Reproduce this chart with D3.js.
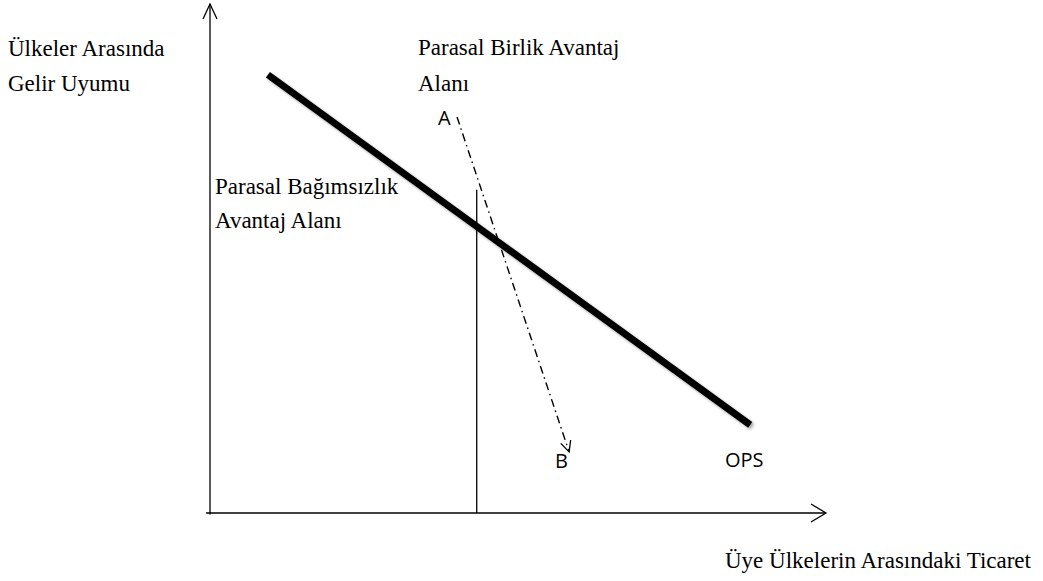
<!DOCTYPE html>
<html>
<head>
<meta charset="utf-8">
<script src="https://cdn.jsdelivr.net/npm/d3@7"></script>
<style>
  body { margin: 0; background: #fff; }
  .serif { font-family: "Liberation Serif", "Times New Roman", serif; font-size: 23px; fill: #000; }
  .sans { font-family: "Open Sans", "Liberation Sans", sans-serif; font-size: 20px; fill: #000; }
</style>
</head>
<body>
<div id="chart"></div>
<script>
// conceptual coordinates, 0..100 on both axes
var opsX = [9.4, 87.7];
var opsY = [86.1, 17.3];
var splitX = 43.3;
var splitTop = 63.5;
var moveX = [40.1, 58.3];   // A -> B
var moveY = [77.8, 12.0];

var yTitle = ["Ülkeler Arasında", "Gelir Uyumu"];
var xTitle = "Üye Ülkelerin Arasındaki Ticaret";
var unionLabel = ["Parasal Birlik Avantaj", "Alanı"];
var indepLabel = ["Parasal Bağımsızlık", "Avantaj Alanı"];

var svgW = 1043, svgH = 581;

var svg = d3.select("#chart").append("svg")
  .attr("width", svgW)
  .attr("height", svgH);

var defs = svg.append("defs");
var shadow = defs.append("filter").attr("id", "shadow")
  .attr("x", "-10%").attr("y", "-10%").attr("width", "130%").attr("height", "130%");
shadow.append("feGaussianBlur").attr("in", "SourceAlpha").attr("stdDeviation", 1.5).attr("result", "blur");
shadow.append("feOffset").attr("dx", 2).attr("dy", 2).attr("result", "off");
shadow.append("feComponentTransfer").append("feFuncA").attr("type", "linear").attr("slope", 0.35);
var merge = shadow.append("feMerge");
merge.append("feMergeNode");
merge.append("feMergeNode").attr("in", "SourceGraphic");

var x = d3.scaleLinear().domain([0, 100]).range([210, 826]);
var y = d3.scaleLinear().domain([0, 100]).range([513, 4]);

var line = d3.line().x(d => x(d[0])).y(d => y(d[1]));

// axes
var axes = svg.append("g").attr("stroke", "#000").attr("fill", "none").attr("stroke-width", 1.3);
axes.append("path").attr("d", line([[0, -0.3], [0, 100]]));
axes.append("path").attr("d", `M${x(0) - 4},${y(0)}H${x(100)}`);
// arrow heads
axes.append("path").attr("d", `M${x(0) - 7},${y(100) + 15}L${x(0)},${y(100)}L${x(0) + 7},${y(100) + 15}`);
axes.append("path").attr("d", `M${x(100) - 15},${y(0) - 9}L${x(100)},${y(0)}L${x(100) - 15},${y(0) + 9}`);

// vertical divider
svg.append("path")
  .attr("d", line([[splitX, 0], [splitX, splitTop]]))
  .attr("stroke", "#000")
  .attr("stroke-width", 1.3)
  .attr("fill", "none");

// OPS line
svg.append("path")
  .attr("d", line(d3.zip(opsX, opsY)))
  .attr("stroke", "#000")
  .attr("stroke-width", 7)
  .attr("fill", "none")
  .attr("filter", "url(#shadow)");

// A -> B dash-dot arrow
var ax = x(moveX[0]), ay = y(moveY[0]), bx = x(moveX[1]), by = y(moveY[1]);
svg.append("path")
  .attr("d", line(d3.zip(moveX, moveY)))
  .attr("stroke", "#000")
  .attr("stroke-width", 1.4)
  .attr("stroke-dasharray", "8,4,1.5,4")
  .attr("fill", "none");
var ang = Math.atan2(by - ay, bx - ax);
var headLen = 12, spread = 0.45;
svg.append("path")
  .attr("d", `M${bx - headLen * Math.cos(ang - spread)},${by - headLen * Math.sin(ang - spread)}L${bx},${by}L${bx - headLen * Math.cos(ang + spread)},${by - headLen * Math.sin(ang + spread)}`)
  .attr("stroke", "#000")
  .attr("stroke-width", 1.3)
  .attr("fill", "none");

// labels
function multi(lines, px, py, gap) {
  var t = svg.append("text").attr("class", "serif").attr("x", px).attr("y", py);
  lines.forEach(function (s, i) {
    t.append("tspan").attr("x", px).attr("dy", i === 0 ? 0 : gap).text(s);
  });
}
multi(yTitle, 8, 56, 35);
multi(unionLabel, 418, 55, 36);
multi(indepLabel, 215, 194, 34);
svg.append("text").attr("class", "serif").attr("x", 725).attr("y", 568).text(xTitle);

svg.append("text").attr("class", "sans").attr("x", 438).attr("y", 125).text("A");
svg.append("text").attr("class", "sans").attr("x", 555).attr("y", 468).text("B");
svg.append("text").attr("class", "sans").attr("x", 725).attr("y", 467).text("OPS");
</script>
</body>
</html>
